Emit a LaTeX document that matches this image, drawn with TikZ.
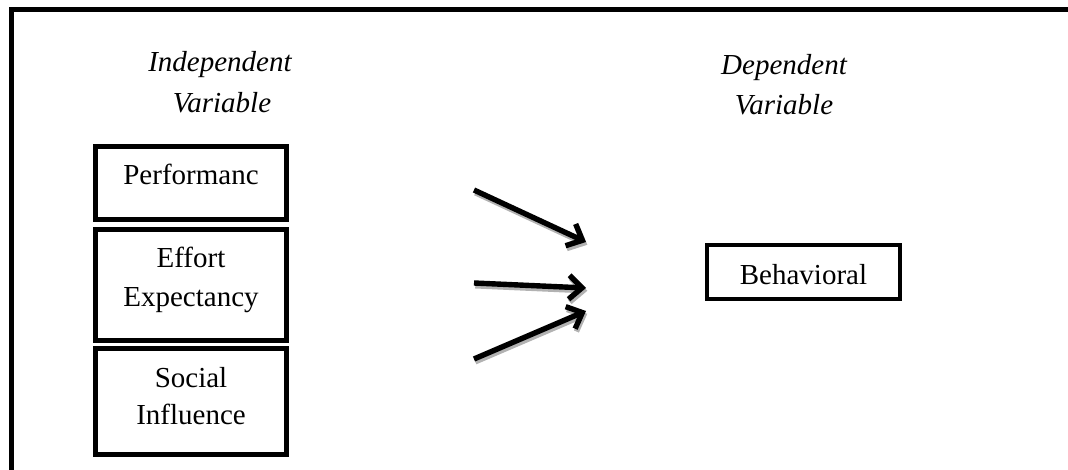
\documentclass[tikz,border=0pt]{standalone}
\usepackage{fontspec}
\setmainfont{Liberation Serif}
\usetikzlibrary{arrows.meta}
\begin{document}
\begin{tikzpicture}[x=1pt,y=-1pt,
  box/.style={draw, line width=5pt, inner sep=0pt, minimum width=191pt},
  lbl/.style={anchor=base, inner sep=0pt, font=\fontsize{29}{35}\selectfont},
  head/.style={anchor=base, inner sep=0pt, font=\fontsize{29}{35}\selectfont\itshape},
  arrbase/.style={line width=5.4pt, -{Straight Barb[length=13pt,width=24pt]}},
  arr/.style={arrbase, draw=black},
  arrshadow/.style={arrbase, draw=gray!60},
]
\useasboundingbox (0,0) rectangle (1068,470);
% outer frame (open at right and bottom)
\coordinate (fbl) at (11,470);
\coordinate (ftl) at (11,10);
\coordinate (ftr) at (1068,10);
\draw[line width=5pt, line join=miter] (fbl) -- (ftl) -- (ftr);

% headings
\node[head] (ind1) at (220,72) {Independent};
\node[head] (ind2) at (222,113) {Variable};
\node[head] (dep1) at (784,75) {Dependent};
\node[head] (dep2) at (784,115) {Variable};

% independent variable boxes
\node[box, minimum height=73.5pt] (perf) at (191,183.25) {};
\node[lbl] (perft) at (191,185) {Performanc};
\node[box, minimum height=110pt] (eff) at (191,285) {};
\node[lbl] (efft1) at (191,268) {Effort};
\node[lbl] (efft2) at (191,306) {Expectancy};
\node[box, minimum height=106pt] (soc) at (191,401) {};
\node[lbl] (soct1) at (191,387) {Social};
\node[lbl] (soct2) at (191,424) {Influence};

% dependent variable box
\node[box, line width=4.6pt, minimum width=193pt, minimum height=54pt] (beh) at (803.5,272) {};
\node[lbl] (beht) at (803.5,284) {Behavioral};

% arrows
\coordinate (a1s) at (474,190);
\coordinate (a1e) at (586,242);
\coordinate (a2s) at (474,283);
\coordinate (a2e) at (586,288);
\coordinate (a3s) at (474,359);
\coordinate (a3e) at (586,311);
\begin{scope}[transform canvas={shift={(1.3pt,-2.8pt)}}]
  \draw[arrshadow] (a1s) -- (a1e);
  \draw[arrshadow] (a2s) -- (a2e);
  \draw[arrshadow] (a3s) -- (a3e);
\end{scope}
\draw[arr] (a1s) -- (a1e);
\draw[arr] (a2s) -- (a2e);
\draw[arr] (a3s) -- (a3e);
\end{tikzpicture}
\end{document}
